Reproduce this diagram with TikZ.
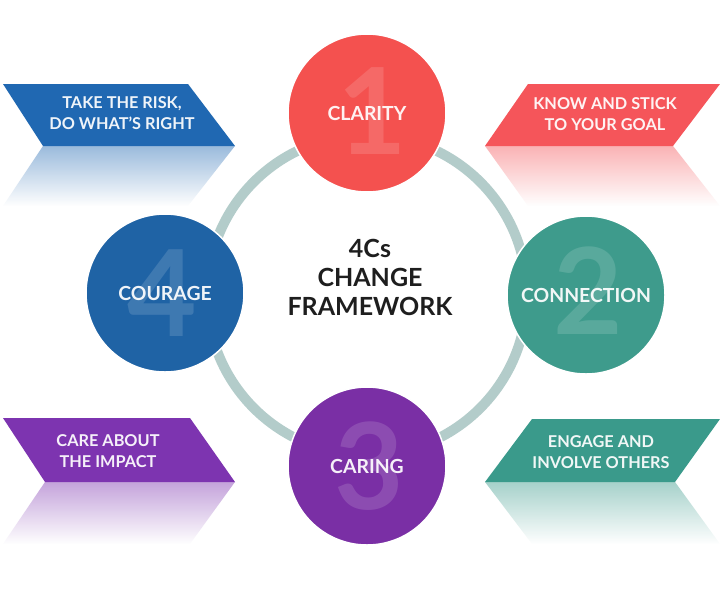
\documentclass[tikz,border=0pt]{standalone}
\usepackage{fontspec}
\setmainfont{Lato}
\usetikzlibrary{fadings}
\definecolor{cred}{HTML}{F4514F}
\definecolor{bred}{HTML}{F5555A}
\definecolor{cteal}{HTML}{3E9B8C}
\definecolor{bteal}{HTML}{3A9A8B}
\definecolor{cpurple}{HTML}{7A2FA5}
\definecolor{bpurple}{HTML}{7D34B0}
\definecolor{cblue}{HTML}{1F63A5}
\definecolor{bblue}{HTML}{2068B2}
\definecolor{ringc}{HTML}{B3CCCA}
\definecolor{titlec}{HTML}{1E1E1E}
\tikzfading[name=reflfade, top color=transparent!55, bottom color=transparent!100]
\tikzset{
  bubble/.style={circle, minimum size=158pt, inner sep=0pt, draw=white, line width=1.5pt},
  bignum/.style={text=white, text opacity=0.14, font=\bfseries\fontsize{120}{120}\selectfont, inner sep=0pt},
  clabel/.style={text=white, text opacity=0.93, font=\bfseries\fontsize{19.4}{21}\selectfont, inner sep=0pt},
  btext/.style={text=white, text opacity=0.93, font=\bfseries\fontsize{16.3}{21.5}\selectfont, align=center, inner sep=0pt},
  ttext/.style={text=titlec, font=\bfseries\fontsize{25}{29}\selectfont, align=center, inner sep=0pt},
  refl/.style={path fading=reflfade}
}
\begin{document}
\begin{tikzpicture}[x=1pt,y=-1pt]
\useasboundingbox (0,0) rectangle (720,611);
\fill[white] (0,0) rectangle (720,611);

% ring
\coordinate (rc) at (367,295);
\draw[ringc, line width=10pt] (rc) circle[radius=160];

% banners
\fill[bblue] (3,84) -- (188,84) -- (235,146) -- (43,146) -- cycle;
\fill[bblue, refl] (43,146) -- (235,146) -- (188,206) -- (3,206) -- cycle;
\node[btext] (b1) at (122,113) {TAKE THE RISK,\\DO WHAT’S RIGHT};

\fill[bred] (528,84) -- (720,84) -- (673,146) -- (485,146) -- cycle;
\fill[bred, refl] (485,146) -- (673,146) -- (720,206) -- (528,206) -- cycle;
\node[btext] (b2) at (605,114) {KNOW AND STICK\\TO YOUR GOAL};

\fill[bpurple] (3,418) -- (190,418) -- (235,482) -- (45,482) -- cycle;
\fill[bpurple, refl] (45,482) -- (235,482) -- (190,544) -- (3,544) -- cycle;
\node[btext] (b3) at (108,451) {CARE ABOUT\\THE IMPACT};

\fill[bteal] (532,419) -- (720,419) -- (675,482) -- (485,482) -- cycle;
\fill[bteal, refl] (485,482) -- (675,482) -- (720,544) -- (532,544) -- cycle;
\node[btext] (b4) at (601,452) {ENGAGE AND\\INVOLVE OTHERS};

% circles
\node[bubble, fill=cred] (clarity) at (367,113) {};
\node[bignum] (n1) at (372,111) {1};
\node[clabel] (l1) at (clarity) {CLARITY};

\node[bubble, fill=cteal] (connection) at (586,295) {};
\node[bignum] (n2) at (588,291) {2};
\node[clabel] (l2) at (connection) {CONNECTION};

\node[bubble, fill=cpurple] (caring) at (367,466) {};
\node[bignum] (n3) at (369,466) {3};
\node[clabel] (l3) at (caring) {CARING};

\node[bubble, fill=cblue] (courage) at (165,293) {};
\node[bignum] (n4) at (162,293) {4};
\node[clabel] (l4) at (courage) {COURAGE};

% title
\node[ttext] (title) at (370,277) {4Cs\\CHANGE\\FRAMEWORK};
\end{tikzpicture}
\end{document}
